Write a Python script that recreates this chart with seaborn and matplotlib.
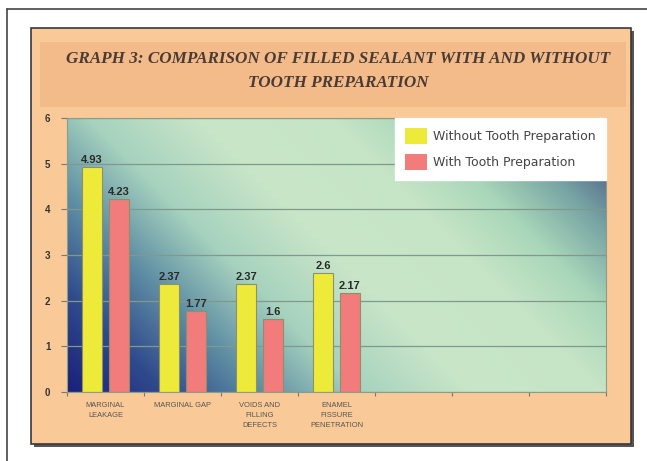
import numpy as np
import pandas as pd
import seaborn as sns
import matplotlib
matplotlib.use("Agg")
import matplotlib.pyplot as plt
from matplotlib.patches import Rectangle, Patch
from matplotlib.colors import to_rgb
from matplotlib.lines import Line2D

# Data
categories = ["MARGINAL\nLEAKAGE", "MARGINAL GAP", "VOIDS AND\nFILLING\nDEFECTS",
              "ENAMEL\nFISSURE\nPENETRATION"]
without_prep = [4.93, 2.37, 2.37, 2.6]
with_prep = [4.23, 1.77, 1.6, 2.17]
series_names = ["Without Tooth Preparation", "With Tooth Preparation"]
n_slots = 7  # the category axis has room for seven groups, only four used

df = pd.DataFrame({
    "category": categories * 2,
    "series": [series_names[0]] * 4 + [series_names[1]] * 4,
    "value": without_prep + with_prep,
})

W, H = 647, 461
sns.set_theme(style="white")
plt.rcParams["font.family"] = ["Liberation Sans", "DejaVu Sans"]

fig = plt.figure(figsize=(W / 100, H / 100), dpi=100)
fig.patch.set_facecolor("white")


def fx(px):
    return px / W


def fy(py):
    return 1 - py / H


# outer page frame
fig.add_artist(Line2D([fx(7), fx(7)], [fy(9), 0], color="#444444", lw=1.2, zorder=-2))
fig.add_artist(Line2D([fx(7), 1], [fy(9), fy(9)], color="#444444", lw=1.2, zorder=-2))

# orange panel with shadow
fig.patches.append(Rectangle((fx(34), fy(447)), fx(600), 416 / H, transform=fig.transFigure,
                             facecolor="#555555", edgecolor="none", zorder=-3))
fig.patches.append(Rectangle((fx(31), fy(444)), fx(600), 416 / H, transform=fig.transFigure,
                             facecolor="#F9C997", edgecolor="#3a3a3a", lw=1.2, zorder=-2))
# title band
fig.patches.append(Rectangle((fx(40), fy(107)), fx(586), 65 / H, transform=fig.transFigure,
                             facecolor="#F3BA8A", edgecolor="none", zorder=-1))
fig.text(fx(338), fy(59), "GRAPH 3: COMPARISON OF FILLED SEALANT WITH AND WITHOUT",
         ha="center", va="center", fontsize=12.3, fontweight="bold", fontstyle="italic",
         family="Liberation Serif", color="#4a3c34")
fig.text(fx(338), fy(83), "TOOTH PREPARATION",
         ha="center", va="center", fontsize=12.3, fontweight="bold", fontstyle="italic",
         family="Liberation Serif", color="#4a3c34")

ax = fig.add_axes([fx(67), fy(392), 539 / W, 274 / H])

# diagonal gradient background of the plot area
gw, gh = 539, 274
xx, yy = np.meshgrid(np.arange(gw), np.arange(gh))
s = (xx + yy) / (gw + gh)
stops = [0.0, 0.12, 0.24, 0.36, 0.5, 0.66, 0.76, 0.86, 0.93, 1.0]
cols = ["#1b1f78", "#2f4a8c", "#5f8ea4", "#a6d2be", "#c9e6c8", "#c6e4c6",
        "#a9d7b9", "#78a4a4", "#56708e", "#3e4a80"]
rgb = np.array([to_rgb(c) for c in cols])
img = np.stack([np.interp(s, stops, rgb[:, k]) for k in range(3)], axis=-1)
ax.imshow(img, extent=[0, 1, 0, 1], transform=ax.transAxes, origin="lower",
          aspect="auto", zorder=0)

sns.barplot(data=df, x="category", y="value", hue="series", order=categories,
            palette=["#EEEA3A", "#F27B7B"], width=0.7, gap=0.26,
            edgecolor="#8f8f6a", linewidth=0.8, saturation=1, ax=ax, zorder=2)

for cont in ax.containers:
    ax.bar_label(cont, fmt="{:g}", fontsize=8, fontweight="bold", color="#2a2a2a",
                 padding=1.5)

ax.set_xlim(-0.5, n_slots - 0.5)
ax.set_ylim(0, 6)
ax.set_yticks(range(0, 7))
ax.set_axisbelow(True)
ax.yaxis.grid(True, color="#7f9a8c", lw=0.9)
ax.set_xticks(range(len(categories)))
ax.set_xticklabels(categories, fontsize=5.4, color="#555555", linespacing=1.6)
ax.set_xticks(np.arange(-0.5, n_slots, 1), minor=True)
ax.tick_params(axis="x", which="major", bottom=True, length=0, pad=7)
ax.tick_params(axis="x", which="minor", bottom=True, length=3, width=0.8,
               color="#777777", direction="out")
ax.tick_params(axis="y", left=True, length=4, width=0.8, color="#777777",
               direction="out", pad=8, labelsize=7, labelcolor="#333333")
for lbl in ax.get_yticklabels():
    lbl.set_fontweight("bold")
ax.set_xlabel("")
ax.set_ylabel("")
for sp in ax.spines.values():
    sp.set_color("#8c9c8c")
    sp.set_linewidth(0.8)

handles = [Patch(facecolor="#EEEA3A", edgecolor="none"),
           Patch(facecolor="#F27B7B", edgecolor="none")]
leg = ax.legend(handles, series_names, loc="upper right", bbox_to_anchor=(1, 1),
                borderaxespad=0, frameon=True, fancybox=False,
                prop={"family": "DejaVu Sans", "size": 9},
                handlelength=1.75, handleheight=1.6, labelspacing=0.8,
                handletextpad=0.55, borderpad=0.8)
leg.get_frame().set_facecolor("white")
leg.get_frame().set_edgecolor("white")
leg.get_frame().set_alpha(1)
for t in leg.get_texts():
    t.set_color("#444444")
leg.set_zorder(5)

fig.savefig("out.png", dpi=100)
